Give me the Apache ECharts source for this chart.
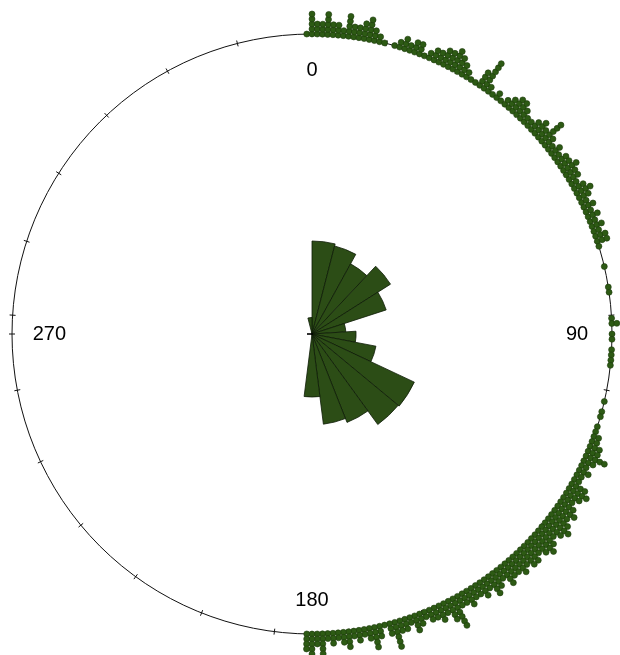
<!DOCTYPE html>
<html>
<head>
<meta charset="utf-8">
<script src="https://cdn.jsdelivr.net/npm/echarts@6/dist/echarts.min.js"></script>
<style>
    html, body { margin: 0; padding: 0; background: #fff; }
    #main { width: 620px; height: 655px; }
</style>
</head>
<body>
<div id="main"></div>
<script>

// 玫瑰图扇区 (25 个, 每个 14.4 度, 刻度就在扇区边界上)
var roseBins = ['0', '14.4', '28.8', '43.2', '57.6', '72', '86.4', '100.8',
    '115.2', '129.6', '144', '158.4', '172.8', '187.2', '201.6', '216',
    '230.4', '244.8', '259.2', '273.6', '288', '302.4', '316.8', '331.2', '345.6'];

// 扇区长度 (外圆半径 = 1)
var roseLength = [0.31, 0.303, 0.267, 0.31, 0.26, 0.113, 0.147, 0.217,
    0.377, 0.373, 0.317, 0.303, 0.21, 0, 0, 0,
    0, 0, 0, 0, 0, 0, 0, 0, 0.055];

// 圆周上堆叠的点：从 -1 度开始，每度一个数
var stackFrom = -1;
var stackCounts = [
    1,
    5, 3, 3, 5, 3, 3, 2, 5, 3, 3, 4, 5, 3, 2, 1, 0, 1, 2, 3, 2, 3, 3, 1,
    2, 3, 3, 4, 4, 5, 4, 3, 2, 1, 1, 4, 7, 2, 1, 2, 1, 2, 3, 4, 4, 3, 2,
    2, 3, 4, 3, 6, 3, 2, 3, 2, 3, 3, 4, 3, 3, 2, 3, 4, 3, 2, 3, 2, 3, 2, 3, 2, 3, 3,
    1, 0, 0, 0, 1, 0, 0, 0, 1, 1, 0, 0, 0, 0, 1, 2, 0, 1, 1, 0, 1, 1, 1, 1, 0, 0, 0, 0, 0, 0, 1, 0, 1, 1, 0,
    1, 1, 2, 2, 3, 3, 5, 3, 2, 3, 2, 2,
    4, 5, 4, 3, 4, 5, 4, 5, 6, 5, 4, 5, 6, 5, 4, 5, 5, 4, 5, 4, 4, 5, 3, 4, 5, 3, 4, 3, 3, 4, 3, 3,
    7, 5, 3, 4, 3, 3, 2, 3, 4, 2, 3, 3, 6, 3, 1, 3, 5, 3, 2, 3, 2, 4, 3, 2, 3, 2, 5, 3,
    6, 4
];

var center = [312, 334];
var circleR = 300;
var dotGap = 5 / circleR;
var dotMax = 1.2;   // 点的半径轴上限

var dots = [];
stackCounts.forEach(function (n, i) {
    var deg = (stackFrom + i + 360) % 360;
    for (var k = 0; k < n; k++) {
        dots.push([1 + k * dotGap, deg]);
    }
});

// 方向标签各自的内边距
var labelFont = { fontSize: 20, color: '#000', fontFamily: 'Liberation Sans, Arial, sans-serif' };
var labelRich = {
    p0: echarts.util.extend({ padding: [0, 0, 8, 0] }, labelFont),
    p90: echarts.util.extend({ padding: [0, 0, 0, 8] }, labelFont),
    p180: echarts.util.extend({ padding: [10, 0, 0, 0] }, labelFont),
    p270: echarts.util.extend({ padding: [0, 0, 0, 0] }, labelFont)
};

var chart = echarts.init(document.getElementById('main'));

var noSplit = { show: false };

var option = {
    animation: false,
    backgroundColor: '#fff',
    polar: [
        { center: center, radius: circleR * dotMax }, // 点
        { center: center, radius: circleR },          // 圆 + 玫瑰图
        { center: center, radius: circleR - 3 },      // 小刻度
        { center: center, radius: circleR - 3 }       // 0/90/180/270
    ],
    angleAxis: [
        {
            polarIndex: 0, type: 'value', min: 0, max: 360, startAngle: 90, clockwise: true,
            axisLine: { show: false },
            axisTick: { show: false }, axisLabel: { show: false }, splitLine: noSplit
        },
        {
            polarIndex: 1, type: 'category', data: roseBins, startAngle: 90, clockwise: true,
            axisLine: { lineStyle: { color: '#111', width: 1 } },
            axisTick: { show: false }, axisLabel: { show: false },
            splitLine: noSplit, splitArea: { show: false }
        },
        {
            polarIndex: 2, type: 'value', min: 0, max: 360, interval: 14.4, startAngle: 90, clockwise: true,
            axisLine: { show: false },
            axisTick: { length: 6, lineStyle: { color: '#111', width: 1 } },
            axisLabel: { show: false }, splitLine: noSplit
        },
        {
            polarIndex: 3, type: 'value', min: 0, max: 360, interval: 90, startAngle: 90, clockwise: true,
            axisLine: { show: false },
            axisTick: { length: 6, lineStyle: { color: '#111', width: 1 } },
            axisLabel: {
                margin: -51,
                fontSize: 20,
                color: '#000',
                fontFamily: 'Liberation Sans, Arial, sans-serif',
                rich: labelRich,
                formatter: function (v) {
                    return v === 360 ? '' : '{p' + v + '|' + v + '}';
                }
            },
            splitLine: noSplit
        }
    ],
    radiusAxis: [0, 1, 2, 3].map(function (i) {
        return {
            polarIndex: i, type: 'value', min: 0, max: i === 0 ? dotMax : 1, show: false,
            axisLine: { show: false }, axisTick: { show: false },
            axisLabel: { show: false }, splitLine: noSplit
        };
    }),
    series: [
        {
            type: 'bar',
            coordinateSystem: 'polar',
            polarIndex: 1,
            data: roseLength,
            barCategoryGap: '0%',
            silent: true,
            itemStyle: {
                color: '#2c4d16',
                borderColor: '#0e1c06',
                borderWidth: 0.8
            }
        },
        {
            type: 'scatter',
            coordinateSystem: 'polar',
            polarIndex: 0,
            data: dots,
            symbolSize: 6,
            silent: true,
            itemStyle: {
                color: '#2d5a14',
                borderColor: '#1d3b0b',
                borderWidth: 0.6,
                opacity: 1
            }
        },
        {
            // 圆心的小黑线
            type: 'scatter',
            coordinateSystem: 'polar',
            polarIndex: 0,
            data: [[0, 0]],
            symbol: 'rect',
            symbolSize: [6, 2],
            symbolOffset: [-2, 0],
            silent: true,
            itemStyle: { color: '#000' }
        }
    ]
};

chart.setOption(option, true);

</script>
</body>
</html>
